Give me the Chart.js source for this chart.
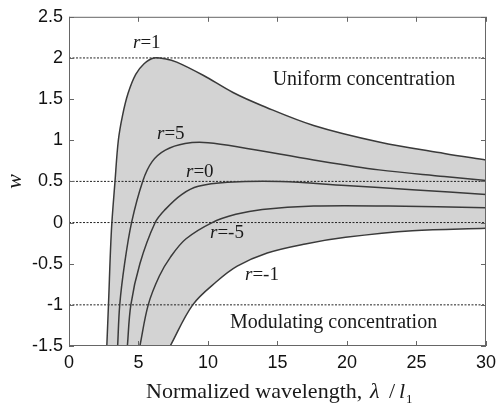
<!DOCTYPE html>
<html>
<head>
<meta charset="utf-8">
<script src="https://cdn.jsdelivr.net/npm/chart.js@4/dist/chart.umd.min.js"></script>
<style>
  body { margin: 0; background: #fff; }
</style>
</head>
<body>
<canvas id="chart" width="502" height="408"></canvas>
<script>
// curves, x = normalized wavelength, y = w
var r1X = [2.72, 2.84, 3.05, 3.31, 3.55, 3.85, 4.25, 4.8, 5.4, 6.1, 6.9, 7.75, 9.65, 11.8, 13.9, 17.6, 22.3, 27, 30];
var r1Y = [-1.5, -1.0, -0.1, 0.5, 1.0, 1.3, 1.57, 1.8, 1.93, 2.0, 1.99, 1.95, 1.79, 1.58, 1.42, 1.18, 0.98, 0.84, 0.76];

var r5X = [3.5, 3.65, 4.0, 4.5, 5.3, 5.98, 6.93, 8.35, 10.0, 12.8, 17.6, 22.3, 27, 30];
var r5Y = [-1.5, -1.0, -0.5, 0.0, 0.5, 0.74, 0.88, 0.96, 0.97, 0.9, 0.76, 0.64, 0.56, 0.51];

var r0X = [4.2, 4.45, 5.1, 6.2, 6.93, 8.1, 9.3, 11.4, 15.2, 19.9, 24.7, 30];
var r0Y = [-1.5, -1.0, -0.5, 0.0, 0.16, 0.34, 0.44, 0.49, 0.5, 0.45, 0.4, 0.34];

var rm5X = [5.1, 5.7, 6.5, 7.3, 8.4, 10.3, 12.0, 13.9, 17.6, 23, 30];
var rm5Y = [-1.5, -1.0, -0.65, -0.42, -0.2, 0.0, 0.1, 0.16, 0.2, 0.2, 0.18];

var rm1X = [7.28, 8.9, 10.6, 12.1, 14.26, 17, 19.9, 24.7, 30];
var rm1Y = [-1.5, -1.0, -0.72, -0.53, -0.37, -0.26, -0.18, -0.1, -0.07];

var refLines = [2, 0.5, 0, -1];
var xTicks = [0, 5, 10, 15, 20, 25, 30];
var yTicks = [-1.5, -1, -0.5, 0, 0.5, 1, 1.5, 2, 2.5];

// curve labels: [r value, x px, baseline px]
var curveLabels = [['1', 133, 48], ['5', 157, 139], ['0', 186, 177], ['-5', 210, 238], ['-1', 245, 280]];

function pts(xs, ys) {
    return xs.map(function (x, i) { return { x: x, y: ys[i] }; });
}

// closed outline of the shaded band: r=1 forward, r=-1 back
function bandPts() {
    var top = pts(r1X, r1Y);
    var bot = pts(rm1X, rm1Y).reverse();
    var lastTop = top[top.length - 1];
    var firstBot = bot[0];
    return top.concat([lastTop, firstBot], bot);
}

function curve(xs, ys) {
    return {
        data: pts(xs, ys),
        showLine: true,
        borderColor: '#3a3a3a',
        borderWidth: 1.5,
        pointRadius: 0,
        tension: 0.35,
        fill: false,
        order: 1
    };
}

var datasets = [
    curve(r1X, r1Y),
    curve(r5X, r5Y),
    curve(r0X, r0Y),
    curve(rm5X, rm5Y),
    curve(rm1X, rm1Y)
];

refLines.forEach(function (v) {
    datasets.push({
        data: [{ x: 0, y: v }, { x: 30, y: v }],
        showLine: true,
        borderColor: '#222',
        borderWidth: 1,
        borderDash: [2, 1.5],
        pointRadius: 0,
        fill: false,
        order: 2
    });
});

datasets.push({
    data: bandPts(),
    showLine: true,
    borderWidth: 0,
    borderColor: 'rgba(0,0,0,0)',
    backgroundColor: '#d3d3d3',
    pointRadius: 0,
    tension: 0.35,
    fill: 'shape',
    order: 3
});

// frame, inward ticks and the text annotations
var decor = {
    id: 'decor',
    afterDatasetsDraw: function (chart) {
        var ctx = chart.ctx;
        var a = chart.chartArea;
        var xs = chart.scales.x, ys = chart.scales.y;
        ctx.save();
        ctx.strokeStyle = '#666';
        ctx.lineWidth = 1;
        ctx.strokeRect(a.left + 0.5, a.top + 0.5, a.right - a.left - 1, a.bottom - a.top - 1);
        ctx.beginPath();
        xTicks.forEach(function (v) {
            var p = Math.round(xs.getPixelForValue(v)) + 0.5;
            ctx.moveTo(p, a.bottom); ctx.lineTo(p, a.bottom - 5);
            ctx.moveTo(p, a.top); ctx.lineTo(p, a.top + 5);
        });
        yTicks.forEach(function (v) {
            var p = Math.round(ys.getPixelForValue(v)) + 0.5;
            ctx.moveTo(a.left, p); ctx.lineTo(a.left + 5, p);
            ctx.moveTo(a.right, p); ctx.lineTo(a.right - 5, p);
        });
        ctx.stroke();

        ctx.fillStyle = '#1a1a1a';
        ctx.textBaseline = 'alphabetic';
        ctx.textAlign = 'left';
        curveLabels.forEach(function (l) {
            ctx.font = 'italic 19px "Liberation Serif"';
            ctx.fillText('r', l[1], l[2]);
            var w = ctx.measureText('r').width;
            ctx.font = '19px "Liberation Serif"';
            ctx.fillText('=' + l[0], l[1] + w, l[2]);
        });

        ctx.font = '20px "Liberation Serif"';
        ctx.textAlign = 'center';
        ctx.fillText('Uniform concentration', 364, 85);
        ctx.textAlign = 'left';
        ctx.fillText('Modulating concentration', 230, 328);

        // x axis title with italic symbols
        ctx.font = '22px "Liberation Serif"';
        ctx.fillText('Normalized wavelength,', 146, 398);
        ctx.font = 'italic 22px "Liberation Serif"';
        ctx.fillText('\u03bb', 370, 398);
        ctx.font = '22px "Liberation Serif"';
        ctx.fillText('/', 389, 398);
        ctx.font = 'italic 22px "Liberation Serif"';
        ctx.fillText('l', 399, 398);
        ctx.font = '13px "Liberation Serif"';
        ctx.fillText('1', 406, 403);
        ctx.restore();
    }
};

var tickFont = { family: '"Liberation Sans", Arial', size: 18 };

new Chart(document.getElementById('chart').getContext('2d'), {
    type: 'scatter',
    data: { datasets: datasets },
    plugins: [decor],
    options: {
        responsive: false,
        animation: false,
        devicePixelRatio: 1,
        layout: { padding: { top: 14, right: 10, left: 0, bottom: 0 } },
        plugins: {
            legend: { display: false },
            tooltip: { enabled: false }
        },
        scales: {
            x: {
                type: 'linear',
                min: 0,
                max: 30,
                afterBuildTicks: function (s) { s.ticks = xTicks.map(function (v) { return { value: v }; }); },
                afterFit: function (s) { s.height = 62; },
                ticks: { font: tickFont, color: '#111', padding: 6, maxRotation: 0, callback: function (v) { return String(v); } },
                grid: { display: false, drawTicks: false },
                border: { display: false }
            },
            y: {
                min: -1.5,
                max: 2.5,
                afterBuildTicks: function (s) { s.ticks = yTicks.map(function (v) { return { value: v }; }); },
                afterFit: function (s) { s.width = 69; },
                ticks: { font: tickFont, color: '#111', padding: 6, callback: function (v) { return String(v); } },
                grid: { display: false, drawTicks: false },
                border: { display: false },
                title: {
                    display: true,
                    text: 'w',
                    color: '#1a1a1a',
                    font: { family: '"Liberation Serif"', size: 22, style: 'italic' },
                    padding: { top: 2, bottom: 0 }
                }
            }
        }
    }
});
</script>
</body>
</html>
